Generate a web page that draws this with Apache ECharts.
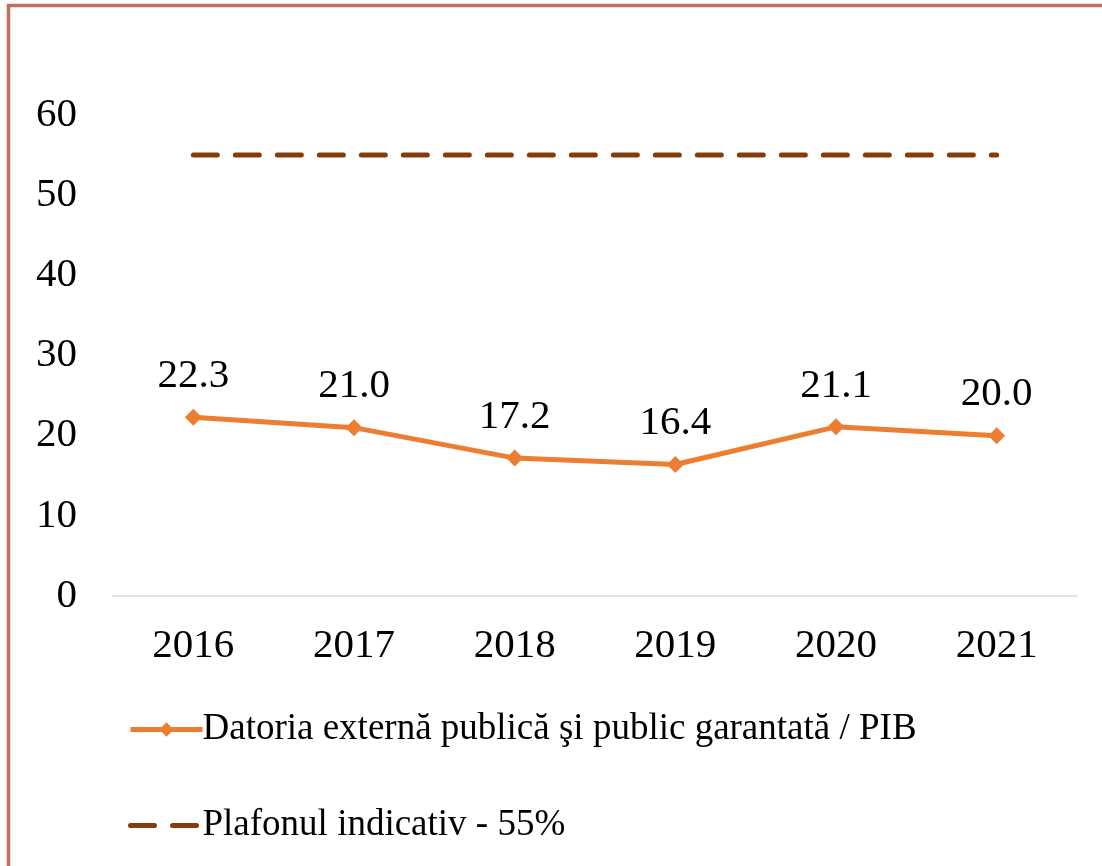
<!DOCTYPE html>
<html lang="ro">
<head>
    <meta charset="UTF-8">
    <title>Datoria externă publică</title>
    <style>
        body { margin: 0; background: #fff; }
    </style>
</head>
<body>
<div id="main" style="width: 1102px;height: 866px;"></div>
<script src="https://cdn.jsdelivr.net/npm/echarts@6/dist/echarts.min.js"></script>
<script type="text/javascript">
    // ani pe axa X
    var years = ['2016', '2017', '2018', '2019', '2020', '2021'];
    // datoria externa publica / PIB, %
    var datoria = [22.3, 21.0, 17.2, 16.4, 21.1, 20.0];
    // plafonul indicativ
    var plafon = [55, 55, 55, 55, 55, 55];

    var serif = '"Liberation Serif", "Times New Roman", serif';

    var option = {
        backgroundColor: '#fff',
        animation: false,
        textStyle: { fontFamily: serif },
        // rama din stanga si sus
        graphic: [{
            type: 'rect',
            shape: { x: 8.5, y: 5.5, width: 1200, height: 1000 },
            style: { fill: 'none', stroke: '#C0705E', lineWidth: 3.5 },
            silent: true
        }],
        grid: {
            left: 113,
            right: 25,
            top: 115,
            bottom: 270
        },
        legend: {
            orient: 'vertical',
            left: 123,
            top: 706,
            itemGap: 59,
            itemWidth: 72,
            itemHeight: 18,
            textStyle: { fontSize: 37, color: '#000', fontFamily: serif, padding: [0, 0, 0, -5] },
            data: [
                {
                    name: 'Datoria externă publică şi public garantată / PIB',
                    lineStyle: { width: 5, color: '#ED7D31' }
                },
                {
                    name: 'Plafonul indicativ - 55%',
                    lineStyle: { width: 5, color: '#843C0C', type: [24, 18], cap: 'round' },
                    itemStyle: { opacity: 0 }
                }
            ]
        },
        xAxis: {
            type: 'category',
            data: years,
            boundaryGap: true,
            axisLine: { lineStyle: { color: '#D9D9D9', width: 1.5 } },
            axisTick: { show: false },
            axisLabel: { fontSize: 41, color: '#000', margin: 30, fontFamily: serif }
        },
        yAxis: {
            type: 'value',
            min: 0,
            max: 60,
            interval: 10,
            axisLine: { show: false },
            axisTick: { show: false },
            splitLine: { show: false },
            axisLabel: { fontSize: 41, color: '#000', margin: 36, fontFamily: serif }
        },
        series: [{
            name: 'Datoria externă publică şi public garantată / PIB',
            type: 'line',
            data: datoria,
            symbol: 'diamond',
            symbolSize: 17,
            lineStyle: { color: '#ED7D31', width: 5 },
            itemStyle: { color: '#ED7D31' },
            label: {
                show: true,
                position: 'top',
                distance: 12,
                fontSize: 41,
                color: '#000',
                fontFamily: serif,
                formatter: function (p) { return p.value.toFixed(1); }
            },
            z: 3
        }, {
            name: 'Plafonul indicativ - 55%',
            type: 'line',
            data: plafon,
            symbol: 'none',
            lineStyle: { color: '#843C0C', width: 5, type: [24, 18], cap: 'round' },
            itemStyle: { color: '#843C0C' },
            z: 2
        }]
    };

    var myChart = echarts.init(document.getElementById('main'));
    myChart.setOption(option);
</script>
</body>
</html>
